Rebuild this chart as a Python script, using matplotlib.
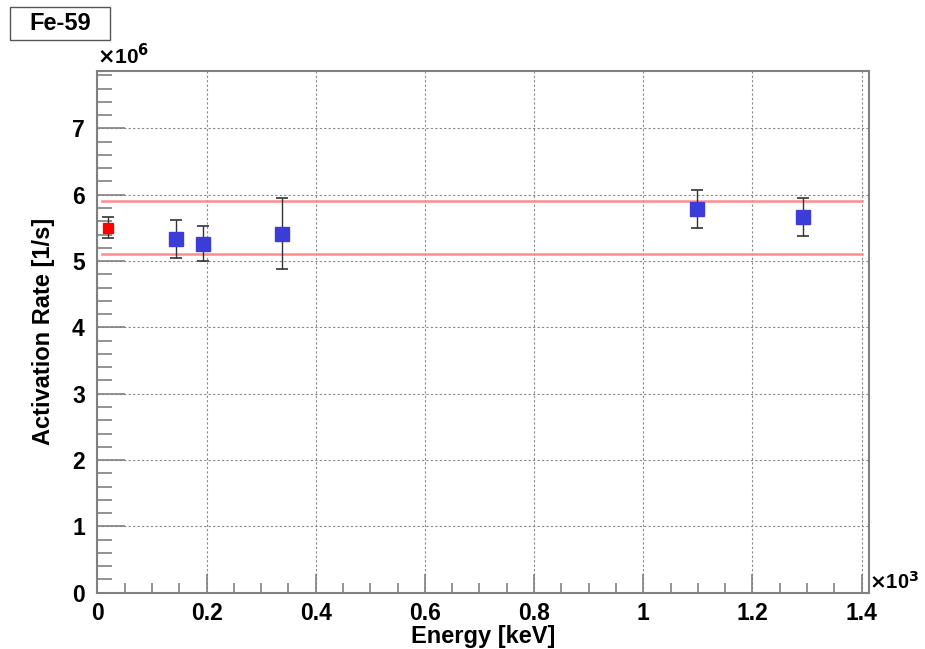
import matplotlib.pyplot as plt
from matplotlib.patches import Rectangle
from matplotlib.ticker import MultipleLocator, FormatStrFormatter
import numpy as np

plt.rcParams['font.family'] = ['Liberation Sans', 'DejaVu Sans']
plt.rcParams['font.weight'] = 'bold'

# Fe-59 activation rate per irradiation energy
ref_energy = [20.0]          # keV
ref_rate = [5.505e6]         # 1/s
ref_err = [0.155e6]

energy = [144.0, 194.0, 338.6, 1098.8, 1291.8]    # keV
rate = [5.335e6, 5.26e6, 5.415e6, 5.787e6, 5.67e6]
rate_err = [0.29e6, 0.265e6, 0.53e6, 0.29e6, 0.285e6]

band_lo = 5.104e6
band_hi = 5.908e6
band_x = [8.0, 1400.0]       # keV

xs, ys = 1e3, 1e6
fs = 16.5

fig = plt.figure(figsize=(9.25, 6.49), dpi=100)
ax = fig.add_axes([0.1052, 0.0867, 0.834, 0.8044])

# band limits
for lvl in (band_lo, band_hi):
    ax.plot(np.array(band_x) / xs, [lvl / ys] * 2, color='#ff8c8c', lw=1.8, zorder=2)

ax.errorbar(np.array(energy) / xs, np.array(rate) / ys, yerr=np.array(rate_err) / ys,
            fmt='s', color='#3c3cd8', ms=9.5, ecolor='#333333', elinewidth=1.0,
            capsize=4.5, capthick=1.2, zorder=3)
ax.errorbar(np.array(ref_energy) / xs, np.array(ref_rate) / ys, yerr=np.array(ref_err) / ys,
            fmt='s', color='#ff0000', ms=6.5, ecolor='#333333', elinewidth=1.0,
            capsize=4.5, capthick=1.2, zorder=3)

ax.set_xlim(0, 1.413)
ax.set_ylim(0, 7.87)

ax.xaxis.set_major_locator(MultipleLocator(0.2))
ax.xaxis.set_minor_locator(MultipleLocator(0.05))
ax.yaxis.set_major_locator(MultipleLocator(1))
ax.yaxis.set_minor_locator(MultipleLocator(0.2))
ax.xaxis.set_major_formatter(FormatStrFormatter('%g'))
ax.yaxis.set_major_formatter(FormatStrFormatter('%g'))

ax.grid(True, which='major', ls=(0, (2, 2)), color='#888888', lw=0.8)
ax.set_axisbelow(True)

for sp in ax.spines.values():
    sp.set_color('#808080')
    sp.set_linewidth(1.5)

ax.tick_params(axis='both', which='both', direction='in', colors='#808080',
               labelcolor='black', labelsize=fs, top=False, right=False)
ax.tick_params(axis='x', which='major', length=14, width=1.2, pad=7)
ax.tick_params(axis='x', which='minor', length=7, width=1.2)
ax.tick_params(axis='y', which='major', length=20, width=1.2, pad=9)
ax.tick_params(axis='y', which='minor', length=11, width=1.2)
for lab in ax.get_xticklabels() + ax.get_yticklabels():
    lab.set_fontweight('bold')

ax.set_xlabel('Energy [keV]', fontsize=17, fontweight='bold', labelpad=0)
ax.set_ylabel('Activation Rate [1/s]', fontsize=17, fontweight='bold', labelpad=12)

# axis multipliers
ax.text(0.0, 1.005, r'$\times$10$^{\mathbf{6}}$', transform=ax.transAxes,
        fontsize=15, fontweight='bold', ha='left', va='bottom')
ax.text(1.0, 0.0, r'$\times$10$^{\mathbf{3}}$', transform=ax.transAxes,
        fontsize=14.5, fontweight='bold', ha='left', va='bottom')

# title box
fig.patches.append(Rectangle((10 / 925, 1 - 40 / 649), 100 / 925, 33 / 649,
                             transform=fig.transFigure, fc='white', ec='#555555', lw=1.0))
fig.text(60 / 925, 1 - 23.5 / 649, 'Fe-59', fontsize=17, fontweight='bold',
         ha='center', va='center')

fig.savefig('out.png', dpi=100)
